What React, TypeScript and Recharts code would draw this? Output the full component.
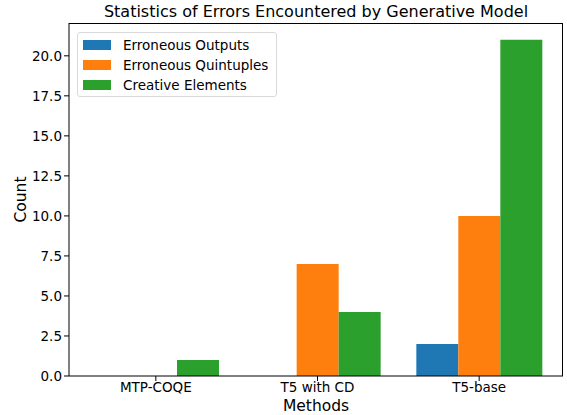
import { BarChart, Bar, XAxis, YAxis, Label } from 'recharts';

const methods = ['MTP-COQE', 'T5 with CD', 'T5-base'];
const erroneousOutputs = [0, 0, 2];
const erroneousQuintuples = [0, 7, 10];
const creativeElements = [1, 4, 21];
const yTicks = [0, 2.5, 5, 7.5, 10, 12.5, 15, 17.5, 20];

const series = [
  { key: 'outputs', name: 'Erroneous Outputs', color: '#1f77b4' },
  { key: 'quintuples', name: 'Erroneous Quintuples', color: '#ff7f0e' },
  { key: 'creative', name: 'Creative Elements', color: '#2ca02c' },
];

const FONT = '"DejaVu Sans", sans-serif';

// legend box in the upper left, matplotlib style
function LegendBox() {
  return (
    <div
      style={{
        position: 'absolute',
        left: 77,
        top: 32,
        width: 200,
        height: 65,
        boxSizing: 'border-box',
        border: '1px solid #d9d9d9',
        borderRadius: 3,
        background: 'rgba(255,255,255,0.8)',
        padding: '2px 0 0 5px',
        fontFamily: FONT,
        fontSize: 13.5,
        color: '#000',
      }}
    >
      {series.map((s) => (
        <div key={s.key} style={{ display: 'flex', alignItems: 'center', height: 20 }}>
          <div style={{ width: 28, height: 10, background: s.color, marginRight: 12 }} />
          <span>{s.name}</span>
        </div>
      ))}
    </div>
  );
}

export default function App() {
  const data = methods.map((m, i) => ({
    method: m,
    outputs: erroneousOutputs[i],
    quintuples: erroneousQuintuples[i],
    creative: creativeElements[i],
  }));

  const tickStyle = { fontSize: 13.5, fill: '#000', fontFamily: FONT };

  return (
    <div style={{ position: 'absolute', left: 0, top: 0, width: 567, height: 415, background: '#fff' }}>
      <div
        style={{
          position: 'absolute',
          left: 69,
          width: 494,
          top: 2,
          textAlign: 'center',
          fontFamily: FONT,
          fontSize: 16,
          color: '#000',
        }}
      >
        Statistics of Errors Encountered by Generative Model
      </div>
      <BarChart
        width={567}
        height={415}
        data={data}
        margin={{ top: 23, right: 4, left: 0, bottom: 0 }}
        barGap={0}
        barSize={42}
      >
        <XAxis
          dataKey="method"
          height={39}
          padding={{ left: 6, right: 3 }}
          tick={tickStyle}
          tickSize={5}
          tickMargin={1}
          axisLine={{ stroke: '#000' }}
          tickLine={{ stroke: '#000' }}
        >
          <Label
            value="Methods"
            position="insideBottom"
            offset={4}
            style={{ fontSize: 15.5, fill: '#000', fontFamily: FONT }}
          />
        </XAxis>
        <YAxis
          width={69}
          domain={[0, 22.05]}
          ticks={yTicks}
          tickFormatter={(v: number) => v.toFixed(1)}
          tick={tickStyle}
          tickSize={5}
          tickMargin={2}
          axisLine={{ stroke: '#000' }}
          tickLine={{ stroke: '#000' }}
          allowDataOverflow
        >
          <Label
            value="Count"
            angle={-90}
            position="center"
            dx={-14}
            style={{ fontSize: 15.5, fill: '#000', fontFamily: FONT, textAnchor: 'middle' }}
          />
        </YAxis>
        {series.map((s) => (
          <Bar key={s.key} dataKey={s.key} name={s.name} fill={s.color} isAnimationActive={false} />
        ))}
      </BarChart>
      <LegendBox />
      <div
        style={{
          position: 'absolute',
          left: 69,
          top: 23,
          width: 494,
          height: 353,
          borderTop: '1px solid #000',
          borderRight: '1px solid #000',
          boxSizing: 'border-box',
          pointerEvents: 'none',
        }}
      />
    </div>
  );
}
